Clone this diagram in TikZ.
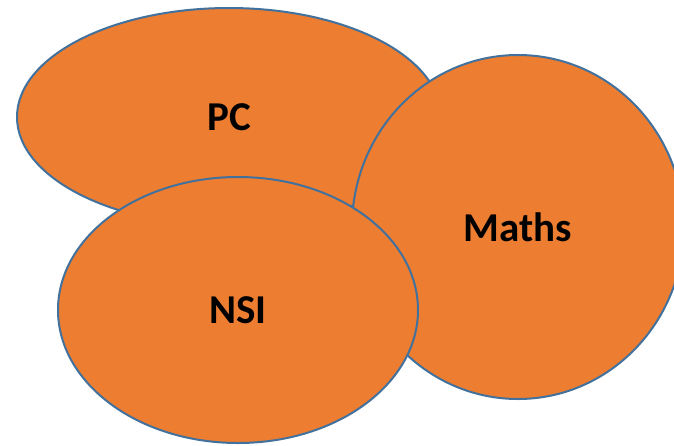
\documentclass[tikz,border=0pt]{standalone}
\usepackage{fontspec}
\setmainfont{Carlito}
\usetikzlibrary{shapes.geometric}
\definecolor{blobfill}{HTML}{ED7D31}
\definecolor{blobline}{HTML}{41719C}
\tikzset{
  blob/.style={ellipse, draw=blobline, fill=blobfill, line width=2pt, inner sep=0pt,
    font=\fontsize{41}{43}\selectfont\bfseries, text=black},
}
\begin{document}
\begin{tikzpicture}[x=1pt,y=-1pt]
\useasboundingbox (0,0) rectangle (674,445);
\clip (0,0) rectangle (674,445);
\node[blob, minimum width=424pt, minimum height=218pt] (pc) at (229,117) {PC};
\node[blob, minimum width=332pt, minimum height=344pt] (maths) at (518,227) {Maths};
\node[blob, minimum width=360pt, minimum height=266pt] (nsi) at (238,310) {NSI};
\end{tikzpicture}
\end{document}
